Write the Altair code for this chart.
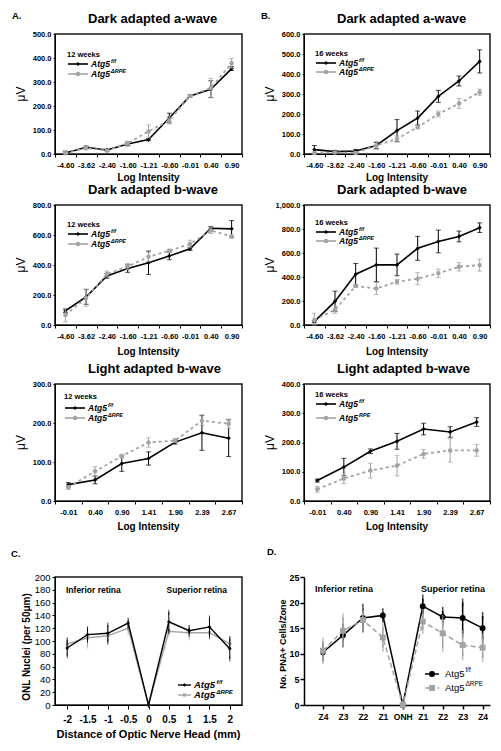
import json
import altair as alt
import pandas as pd

FONT = "Liberation Sans, Arial, sans-serif"
BLACK = "#000000"
GREY = "#a3a3a3"

# ---------------- data ----------------
LOG_DARK = ["-4.60", "-3.62", "-2.40", "-1.60", "-1.21", "-0.60", "-0.01", "0.40", "0.90"]
LOG_LIGHT = ["-0.01", "0.40", "0.90", "1.41", "1.90", "2.39", "2.67"]

# A: 12 weeks
A_DA_FF = [4, 28, 17, 42, 60, 150, 242, 270, 356]
A_DA_FF_ERR = [8, 5, 3, 8, 5, 20, 5, 35, 8]
A_DA_RPE = [3, 25, 14, 45, 94, 140, 242, 275, 378]
A_DA_RPE_ERR = [5, 8, 3, 8, 27, 15, 5, 40, 20]

A_DB_FF = [95, 188, 327, 376, 415, 460, 508, 645, 641]
A_DB_FF_ERR = [12, 50, 15, 25, 78, 25, 10, 10, 55]
A_DB_RPE = [66, 180, 340, 390, 455, 495, 540, 630, 590]
A_DB_RPE_ERR = [45, 55, 20, 20, 30, 10, 25, 20, 10]

A_LB_FF = [42, 54, 96, 109, 151, 175, 161]
A_LB_FF_ERR = [5, 10, 20, 17, 5, 45, 47]
A_LB_RPE = [35, 76, 115, 150, 155, 206, 198]
A_LB_RPE_ERR = [5, 12, 5, 12, 5, 12, 12]

# B: 16 weeks
B_DA_FF = [22, 12, 15, 43, 117, 180, 288, 365, 463]
B_DA_FF_ERR = [20, 5, 8, 15, 55, 35, 30, 25, 58]
B_DA_RPE = [5, 8, 5, 43, 75, 134, 200, 252, 309]
B_DA_RPE_ERR = [5, 5, 5, 20, 15, 8, 15, 25, 15]

B_DB_FF = [28, 197, 423, 501, 501, 639, 696, 738, 811]
B_DB_FF_ERR = [10, 85, 90, 140, 90, 100, 95, 45, 40]
B_DB_RPE = [42, 127, 324, 304, 360, 386, 431, 485, 499]
B_DB_RPE_ERR = [55, 30, 10, 50, 20, 50, 35, 35, 50]

B_LB_FF = [70, 116, 170, 204, 246, 236, 270]
B_LB_FF_ERR = [5, 30, 8, 27, 20, 18, 15]
B_LB_RPE = [40, 77, 104, 121, 161, 173, 173]
B_LB_RPE_ERR = [10, 18, 25, 35, 15, 40, 20]

# C: ONL nuclei
DIST = [-2, -1.5, -1, -0.5, 0, 0.5, 1, 1.5, 2]
C_FF = [89, 110, 112, 128, 0, 130, 116, 122, 88]
C_FF_ERR = [12, 9, 13, 5, 0, 15, 5, 14, 16]
C_RPE = [95, 105, 108, 120, 0, 115, 113, 113, 96]
C_RPE_ERR = [7, 13, 10, 6, 0, 5, 8, 8, 7]

# D: PNA+ cells
ZONES = ["Z4", "Z3", "Z2", "Z1", "ONH", "Z1", "Z2", "Z3", "Z4"]
D_FF = [10.3, 13.6, 17.0, 17.5, 0, 19.3, 17.2, 17.0, 15.0]
D_FF_ERR = [1.0, 1.5, 2.0, 0.6, 0, 1.5, 1.2, 3.0, 2.4]
D_RPE = [10.6, 14.5, 16.6, 13.2, 0, 16.3, 14.0, 11.7, 11.2]
D_RPE_ERR = [1.8, 2.6, 1.7, 2.0, 0, 1.6, 2.8, 2.2, 2.0]

ONE = pd.DataFrame({"k": [0]})


def frame(xs, ff, ff_err, rpe, rpe_err):
    rows = []
    for i, x in enumerate(xs):
        for g, v, e in (("ff", ff, ff_err), ("rpe", rpe, rpe_err)):
            rows.append({"x": x, "g": g, "v": v[i], "lo": max(0, v[i] - e[i]), "hi": v[i] + e[i]})
    return pd.DataFrame(rows)


def txt(text, x, y, size, weight="bold", style="normal", align="left", color=BLACK,
        baseline="middle", angle=0):
    return alt.Chart(ONE).mark_text(
        text=text, fontSize=size, fontWeight=weight, fontStyle=style, align=align,
        baseline=baseline, color=color, font=FONT, angle=angle
    ).encode(x=alt.value(x), y=alt.value(y))


def hline(x1, x2, y, color, width=1.5, dash=None):
    kw = dict(color=color, strokeWidth=width)
    if dash:
        kw["strokeDash"] = dash
    return alt.Chart(ONE).mark_rule(**kw).encode(x=alt.value(x1), x2=alt.value(x2), y=alt.value(y))


def dot(x, y, shape, size, color, opacity=1):
    return alt.Chart(ONE).mark_point(shape=shape, size=size, filled=True, color=color,
                                     opacity=opacity).encode(x=alt.value(x), y=alt.value(y))


def series_layers(df, X, Y, specs, cap, rule_w):
    layers = []
    for g, color, dash, shape, msize, lw in specs:
        sub = alt.Chart(df).transform_filter(alt.datum.g == g)
        lk = dict(color=color, strokeWidth=lw)
        if dash:
            lk["strokeDash"] = dash
        layers.append(sub.mark_line(**lk).encode(x=X, y=Y("v")))
        layers.append(sub.mark_rule(color=color, strokeWidth=rule_w).encode(x=X, y=Y("lo"), y2="hi:Q"))
        layers.append(sub.mark_tick(color=color, size=cap, thickness=rule_w).encode(x=X, y=Y("lo")))
        layers.append(sub.mark_tick(color=color, size=cap, thickness=rule_w).encode(x=X, y=Y("hi")))
        layers.append(sub.mark_point(shape=shape, size=msize, filled=True, color=color, opacity=1).encode(x=X, y=Y("v")))
    return layers


def erg_panel(cats, ff, ff_err, rpe, rpe_err, ymax, ystep, yfmt, title, letter, weeks,
              width, height, sup2, leg, xt_y, anchor=False):
    df = frame(cats, ff, ff_err, rpe, rpe_err)
    xaxis = alt.Axis(title=None, labelFontSize=7.5, labelFontWeight="bold", labelAngle=0,
                     tickBand="extent", tickSize=3, labelPadding=4, grid=False)
    X = alt.X("x:N", sort=cats, scale=alt.Scale(type="band", paddingInner=0, paddingOuter=0), axis=xaxis)
    yaxis = alt.Axis(title=None, values=list(range(0, ymax + 1, ystep)), format=yfmt,
                     labelFontSize=7.5, labelFontWeight="bold", tickSize=2, labelPadding=2, grid=False)
    yscale = alt.Scale(domain=[0, ymax], nice=False)

    def Y(f):
        return alt.Y(f + ":Q", scale=yscale, axis=yaxis)

    specs = [("ff", BLACK, None, "diamond", 18, 1.6), ("rpe", GREY, [3, 3], "circle", 20, 1.8)]
    layers = series_layers(df, X, Y, specs, 5, 1)
    lx, yw, y1, y2 = leg
    layers += [
        txt(title, 33, -11, 13, baseline="alphabetic"),
        txt("Log Intensity", width / 2, height + xt_y, 10, align="center"),
        txt("μV", -34, height / 2, 12, weight="normal", align="center", angle=270),
        txt(weeks, lx, yw, 7.5),
        hline(lx + 1, lx + 21, y1, BLACK, 1.6), dot(lx + 11, y1, "diamond", 18, BLACK),
        txt("Atg5", lx + 24, y1, 8.5, style="italic"),
        txt("f/f", lx + 44, y1 - 3, 5.5, style="italic"),
        hline(lx + 1, lx + 21, y2, GREY, 1.6), dot(lx + 11, y2, "circle", 20, GREY),
        txt("Atg5", lx + 24, y2, 8.5, style="italic"),
        txt(sup2, lx + 44, y2 - 3, 5.5, style="italic"),
    ]
    if letter:
        layers.append(txt(letter, -43, -18, 9.5))
    if anchor:
        layers.append(dot(-45, -24, "circle", 1, "white", opacity=0))
    return alt.layer(*layers).properties(width=width, height=height)


A1 = erg_panel(LOG_DARK, A_DA_FF, A_DA_FF_ERR, A_DA_RPE, A_DA_RPE_ERR, 500, 100, ".1f",
               "Dark adapted a-wave", "A.", "12 weeks", 187, 120, "ΔRPE", (12, 21, 30, 40), 24, anchor=True)
B1 = erg_panel(LOG_DARK, B_DA_FF, B_DA_FF_ERR, B_DA_RPE, B_DA_RPE_ERR, 600, 100, ".1f",
               "Dark adapted a-wave", "B.", "16 weeks", 186, 120, "ΔRPE", (11, 20, 29, 38), 24)
A2 = erg_panel(LOG_DARK, A_DB_FF, A_DB_FF_ERR, A_DB_RPE, A_DB_RPE_ERR, 800, 200, ".1f",
               "Dark adapted b-wave", "", "12 weeks", 187, 120, "ΔRPE", (12, 20, 29, 39), 27)
B2 = erg_panel(LOG_DARK, B_DB_FF, B_DB_FF_ERR, B_DB_RPE, B_DB_RPE_ERR, 1000, 200, ",.1f",
               "Dark adapted b-wave", "", "16 weeks", 186, 120, "ΔRPE", (11, 18, 27, 36), 27)
A3 = erg_panel(LOG_LIGHT, A_LB_FF, A_LB_FF_ERR, A_LB_RPE, A_LB_RPE_ERR, 300, 100, ".1f",
               "Light adapted b-wave", "", "12 weeks", 187, 117, "ΔRPE", (9, 13, 24, 34), 26)
B3 = erg_panel(LOG_LIGHT, B_LB_FF, B_LB_FF_ERR, B_LB_RPE, B_LB_RPE_ERR, 400, 100, ".1f",
               "Light adapted b-wave", "", "16 weeks", 186, 117, " RPE", (11, 11, 20, 34), 26)

# ---------------- C ----------------
C_W, C_H = 187, 128
dfc = frame(DIST, C_FF, C_FF_ERR, C_RPE, C_RPE_ERR)
cx_axis = alt.Axis(title=None, values=DIST,
                   labelExpr="datum.value < 0 ? '-' + format(-datum.value, '~g') : format(datum.value, '~g')",
                   labelFontSize=10, labelFontWeight="bold", tickSize=4, labelPadding=5, grid=False)
XC = alt.X("x:Q", scale=alt.Scale(domain=[-2.3, 2.3], nice=False, zero=False), axis=cx_axis)
cy_axis = alt.Axis(title=None, values=list(range(0, 201, 20)), labelFontSize=9.5,
                   tickSize=3, labelPadding=2, grid=False)
cy_scale = alt.Scale(domain=[0, 200], nice=False)


def YC(f):
    return alt.Y(f + ":Q", scale=cy_scale, axis=cy_axis)


c_layers = series_layers(dfc, XC, YC, [("rpe", GREY, None, "square", 10, 1.4),
                                       ("ff", BLACK, None, "diamond", 14, 1.4)], 5, 1)
c_layers += [
    txt("Inferior retina", 11, 13, 8.5), txt("Superior retina", 172, 13, 8.5, align="right"),
    hline(123, 136, 108, BLACK, 1.4), dot(129.5, 108, "diamond", 14, BLACK),
    txt("Atg5", 139, 108, 9.5, style="italic"), txt("f/f", 161.5, 105, 6, style="italic"),
    hline(123, 136, 118, GREY, 1.4), dot(129.5, 118, "square", 10, GREY),
    txt("Atg5", 139, 118, 9.5, style="italic"), txt("ΔRPE", 161.5, 115, 6, style="italic"),
    txt("Distance of Optic Nerve Head (mm)", C_W / 2, C_H + 30, 11, align="center"),
    txt("ONL Nuclei  (per 50μm)", -28, C_H / 2 + 6, 10, align="center", angle=270),
    txt("C.", -44, -23, 9.5),
]
C = alt.layer(*c_layers).properties(width=C_W, height=C_H)

# ---------------- D ----------------
D_W, D_H = 186, 128
dfd = frame(list(range(len(ZONES))), D_FF, D_FF_ERR, D_RPE, D_RPE_ERR)
dx_axis = alt.Axis(title=None, values=list(range(len(ZONES))),
                   labelExpr=json.dumps(ZONES) + "[datum.value]",
                   labelFontSize=8.5, labelFontWeight="bold", tickSize=4, tickWidth=1.5,
                   domainWidth=1.5, labelPadding=3, grid=False)
XD = alt.X("x:Q", scale=alt.Scale(domain=[-0.95, 8.37], nice=False, zero=False), axis=dx_axis)
dy_axis = alt.Axis(title=None, values=[0, 5, 10, 15, 20, 25], labelFontSize=9, labelFontWeight="bold",
                   tickSize=4, tickWidth=1.5, domainWidth=1.5, labelPadding=1, grid=False)
dy_scale = alt.Scale(domain=[0, 25], nice=False)


def YD(f):
    return alt.Y(f + ":Q", scale=dy_scale, axis=dy_axis)


d_layers = series_layers(dfd, XD, YD, [("ff", BLACK, None, "circle", 35, 1.5),
                                       ("rpe", GREY, [5, 3], "square", 35, 1.5)], 8, 1.5)
d_layers += [
    txt("Inferior retina", 11, 12, 9), txt("Superior retina", 181, 12, 9, align="right"),
    hline(121, 135, 97, BLACK, 1.5), dot(128, 97, "circle", 35, BLACK),
    txt("Atg5", 141, 97, 9.5, weight="normal"), txt("f/f", 161.5, 93, 6.5, weight="normal"),
    hline(121, 135, 111, GREY, 1.5, [4, 2]), dot(128, 111, "square", 35, GREY),
    txt("Atg5", 141, 111, 9.5, weight="normal"), txt("ΔRPE", 161.5, 107, 6.5, weight="normal"),
    txt("No. PNA+ Cells/Zone", -21, D_H / 2 + 3, 9, align="center", angle=270),
    txt("D.", -37, -25, 9.5),
]
D = alt.layer(*d_layers).properties(width=D_W, height=D_H,
                                    view=alt.ViewBackground(stroke="transparent"))


def spacer(w, h):
    return alt.Chart(ONE).mark_point(opacity=0, size=1).encode(
        x=alt.value(0), y=alt.value(0)).properties(
        width=w, height=h, view=alt.ViewBackground(stroke="transparent"))


chart = alt.concat(
    A1, B1, spacer(187, 51), spacer(186, 51),
    A2, B2, spacer(187, 59), spacer(186, 59),
    A3, B3, spacer(187, 76), spacer(186, 76),
    C, D,
    columns=2, spacing=alt.RowColnumber(row=0, column=62), bounds="flush", align="each",
).properties(padding=0, background="white").configure_view(
    stroke="#1a1a1a", strokeWidth=1.5
).configure_axis(
    labelFont=FONT, titleFont=FONT, domainColor=BLACK, tickColor=BLACK, labelColor=BLACK,
    titleColor=BLACK, grid=False
).configure_text(font=FONT)

chart.save("out.html", embed_options={"renderer": "svg", "actions": False})
